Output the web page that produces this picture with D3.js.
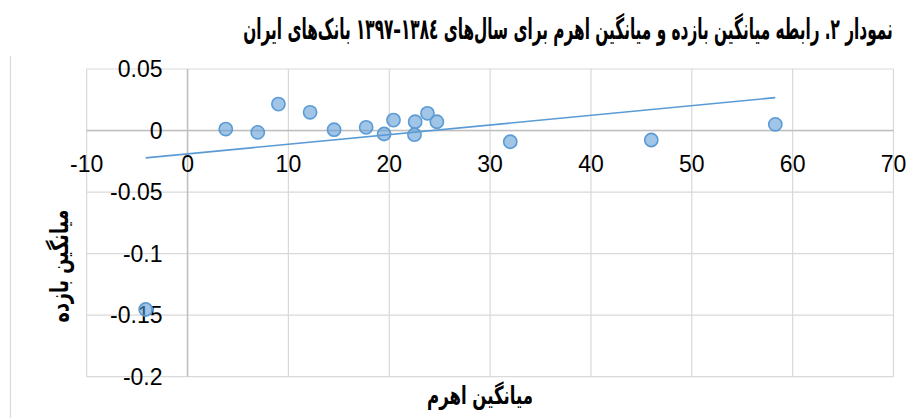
<!DOCTYPE html>
<html><head><meta charset="utf-8">
<script src="https://cdn.jsdelivr.net/npm/d3@7"></script>
<style>
html,body{margin:0;padding:0;background:#fff;}
svg{display:block;}
</style></head>
<body>
<svg id="chart" width="907" height="418"></svg>
<script>
const titleText = "نمودار ٢. رابطه میانگین بازده و میانگین اهرم برای سال‌های ١٣٨٤–١٣٩٧ بانک‌های ایران";
const xTitle = "میانگین اهرم";
const yTitle = "میانگین بازده";
const xTicks = [-10, 0, 10, 20, 30, 40, 50, 60, 70];
const xTickLabels = ["-10", "0", "10", "20", "30", "40", "50", "60", "70"];
const yTicks = [0.05, 0, -0.05, -0.1, -0.15, -0.2];
const yTickLabels = ["0.05", "0", "-0.05", "-0.1", "-0.15", "-0.2"];
const leverage = [3.79, 6.96, 9.01, 12.15, 14.53, 17.71, 19.49, 20.42, 22.57, 22.5, 23.79, 24.72, 32.0, 45.98, 58.28, -4.15];
const returns = [0.0012, -0.0015, 0.0215, 0.0148, 0.0007, 0.0026, -0.0028, 0.0085, 0.0072, -0.0034, 0.014, 0.0072, -0.0091, -0.0077, 0.005, -0.1454];
const trendX = [-4.15, 58.28];
const trendY = [-0.0222, 0.0267];

const svg = d3.select("#chart");
const plot = {left: 86.7, right: 893.5, top: 69, bottom: 376.7};
const x = d3.scaleLinear().domain([-10, 70]).range([plot.left, plot.right]);
const y = d3.scaleLinear().domain([-0.2, 0.05]).range([plot.bottom, plot.top]);

// outer chart border (left edge)
svg.append("line").attr("x1", 10.5).attr("x2", 10.5).attr("y1", 56).attr("y2", 418)
  .attr("stroke", "#d9d9d9").attr("stroke-width", 1.2);

// gridlines
const grid = svg.append("g");
grid.selectAll("line.v").data(xTicks).join("line")
  .attr("x1", d => x(d)).attr("x2", d => x(d))
  .attr("y1", plot.top).attr("y2", plot.bottom)
  .attr("stroke", "#d9d9d9").attr("stroke-width", 1.2);
grid.selectAll("line.h").data(yTicks).join("line")
  .attr("x1", plot.left).attr("x2", plot.right)
  .attr("y1", d => y(d)).attr("y2", d => y(d))
  .attr("stroke", "#d9d9d9").attr("stroke-width", 1.2);

// axis lines through zero
svg.append("line").attr("x1", plot.left).attr("x2", plot.right)
  .attr("y1", y(0)).attr("y2", y(0)).attr("stroke", "#bfbfbf").attr("stroke-width", 1.5);
svg.append("line").attr("x1", x(0)).attr("x2", x(0))
  .attr("y1", plot.top).attr("y2", plot.bottom).attr("stroke", "#bfbfbf").attr("stroke-width", 1.5);

// tick labels
const tickFont = "'Liberation Sans', Arial, sans-serif";
svg.append("g").selectAll("text").data(xTicks).join("text")
  .attr("x", d => x(d)).attr("y", y(0) + 41)
  .attr("text-anchor", "middle")
  .attr("font-family", tickFont).attr("font-size", 23).attr("fill", "#000")
  .text((d, i) => xTickLabels[i]);
svg.append("g").selectAll("text").data(yTicks).join("text")
  .attr("x", x(0) - 25).attr("y", d => y(d) + 8.2)
  .attr("text-anchor", "end")
  .attr("font-family", tickFont).attr("font-size", 23).attr("fill", "#000")
  .text((d, i) => yTickLabels[i]);

// points
svg.append("g").selectAll("circle").data(leverage).join("circle")
  .attr("cx", d => x(d)).attr("cy", (d, i) => y(returns[i]))
  .attr("r", 6.6)
  .attr("fill", "rgba(91,155,213,0.58)")
  .attr("stroke", "#5b9bd5").attr("stroke-width", 1.6);

// trendline
svg.append("path")
  .datum(trendX.map((d, i) => [d, trendY[i]]))
  .attr("d", d3.line().x(d => x(d[0])).y(d => y(d[1])))
  .attr("fill", "none").attr("stroke", "#5b9bd5").attr("stroke-width", 1.7);

const faFont = "'DejaVu Sans', 'Noto Sans', sans-serif";
// place text with horizontal scaling so it spans the given width
function placeText(txt, cx, cy, fs, w, rot) {
  const g = svg.append("g");
  const el = g.append("text")
    .attr("text-anchor", "middle").attr("direction", "rtl")
    .attr("font-family", faFont).attr("font-weight", "bold").attr("font-size", fs)
    .attr("fill", "#000").text(txt);
  const len = el.node().getComputedTextLength();
  g.attr("transform", `translate(${cx},${cy}) rotate(${rot})`);
  el.attr("transform", `scale(${w / len},1)`);
}

placeText(titleText, 568, 39, 29, 650, 0);
placeText(xTitle, 480, 404, 25, 106, 0);
placeText(yTitle, 68, 266, 25, 113, -90);
</script>
</body></html>
